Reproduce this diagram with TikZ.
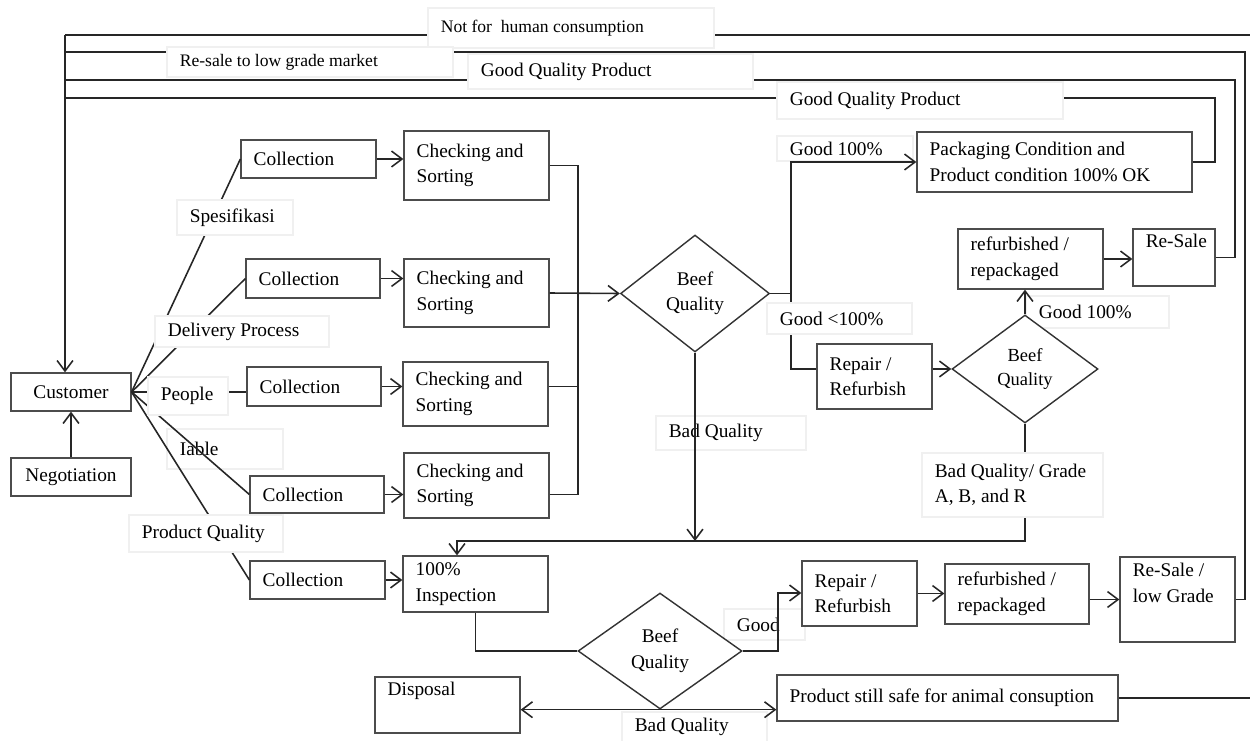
\documentclass[tikz,border=0pt]{standalone}
\usepackage{fontspec}
\setmainfont{Liberation Serif}
\usetikzlibrary{shapes.geometric,arrows.meta}
\newcommand\fs{\fontsize{11}{14.5}\selectfont}
\newcommand\fss{\fontsize{10}{13}\selectfont}
\newcommand\fsm{\fontsize{10.5}{13.5}\selectfont}
\tikzset{
 ln/.style={draw=black!85,line width=0.9pt},
 arr/.style={-{Straight Barb[length=6pt,width=9pt]}},
 boxst/.style={draw=black!70,line width=0.7pt,fill=white,inner sep=0pt},
 lblst/.style={draw=black!6,line width=0.6pt,fill=white,inner sep=0pt},
 txt/.style={inner sep=0pt,align=left,font=\fs},
 dia/.style={diamond,draw=black!80,line width=0.8pt,fill=white,inner sep=0pt,align=center,font=\fs},
}
\newcommand\myrect[7]{%
 \pgfmathsetmacro\rw{(#5-#3)*0.02}%
 \pgfmathsetmacro\rh{(#6-#4)*0.02}%
 \node[#1,minimum width=\rw cm,minimum height=\rh cm] (#2) at ({(#3+#5)/2},{(#4+#6)/2}) {};
 \node[txt,anchor=west] (#2t) at ([xshift=0.26cm]#2.west) {#7};}
\newcommand\mycrect[7]{%
 \pgfmathsetmacro\rw{(#5-#3)*0.02}%
 \pgfmathsetmacro\rh{(#6-#4)*0.02}%
 \node[#1,minimum width=\rw cm,minimum height=\rh cm,font=\fs,align=center] (#2) at ({(#3+#5)/2},{(#4+#6)/2}) {#7};}
\begin{document}
\begin{tikzpicture}[x=0.02cm,y=-0.02cm]
\useasboundingbox (0,0) rectangle (1250,740);
% labels lying under lines / shapes
\myrect{lblst}{lgoodA}{777}{136}{913}{161}{Good 100\%}
\myrect{lblst}{lgoodB}{1026}{296}{1169}{328}{Good 100\%}
\myrect{lblst}{lbadB}{622}{712}{767}{742}{Bad Quality}
\myrect{lblst}{liab}{167}{429}{283}{469}{Iable}
\myrect{lblst}{lbadA}{656}{416}{806}{450}{Bad Quality}
\myrect{lblst}{lgood}{724}{609}{805}{640}{Good}
% boxes
\mycrect{boxst}{customer}{11}{373}{131}{411}{Customer}
\mycrect{boxst}{neg}{11}{458}{131}{496}{Negotiation}
\myrect{boxst}{c1}{241}{140}{376}{178}{Collection}
\myrect{boxst}{c2}{246}{259}{380}{298}{Collection}
\myrect{boxst}{c3}{247}{367}{381}{406}{Collection}
\myrect{boxst}{c4}{250}{476}{384}{513}{Collection}
\myrect{boxst}{c5}{250}{561}{385}{599}{Collection}
\myrect{boxst}{cs1}{404}{131}{549}{200}{Checking and\\Sorting}
\myrect{boxst}{cs2}{404}{259}{549}{327}{Checking and\\Sorting}
\myrect{boxst}{cs3}{403}{362}{548}{426}{Checking and\\Sorting}
\myrect{boxst}{cs4}{404}{453}{549}{518}{Checking and\\Sorting}
\myrect{boxst}{insp}{403}{556}{548}{612}{100\%\\Inspection}
\myrect{boxst}{pack}{917}{132}{1192}{192}{Packaging Condition and\\Product condition 100\% OK}
\myrect{boxst}{rep1}{817}{344}{932}{409}{Repair /\\Refurbish}
\myrect{boxst}{ref1}{958}{229}{1103}{289}{refurbished /\\repackaged}
\myrect{boxst}{resale1}{1133}{229}{1215}{286}{Re-Sale\\\strut}
\myrect{boxst}{rep2}{802}{561}{917}{626}{Repair /\\Refurbish}
\myrect{boxst}{ref2}{945}{564}{1089}{624}{refurbished /\\repackaged}
\myrect{boxst}{resale2}{1120}{557}{1235}{642}{Re-Sale /\\low Grade\\\strut}
\myrect{boxst}{disp}{375}{677}{520}{733}{Disposal\\\strut}
\myrect{boxst}{prod}{777}{675}{1118}{721}{Product still safe for animal consuption}
% diamonds
\node[dia,minimum width=2.98cm,minimum height=2.34cm] (d1) at (695,293.5) {Beef\\Quality};
\node[dia,minimum width=2.92cm,minimum height=2.16cm,font=\fsm] (d2) at (1025,369) {Beef\\Quality};
\node[dia,minimum width=3.28cm,minimum height=2.32cm] (d3) at (660,651) {Beef\\Quality};
% coordinates
\coordinate (tl) at (65,35);
\coordinate (nfR) at (1250,35);
\coordinate (c52r) at (1245,52);
\coordinate (c52l) at (65,52);
\coordinate (c80r) at (1235,80);
\coordinate (c80l) at (65,80);
\coordinate (c98r) at (1215,98);
\coordinate (c98l) at (65,98);
\coordinate (mx) at (578,293);
\coordinate (jr) at (791,293);
\coordinate (jb) at (457,541);
\coordinate (jg) at (778,593);
% top feedback lines
\draw[ln] (nfR) -- (tl);
\draw[ln,arr] (tl) -- (tl |- customer.north);
\draw[ln] (resale2.east) -| (c52r) -- (c52l);
\draw[ln] (resale1.east) -| (c80r) -- (c80l);
\draw[ln] (pack.east) -| (c98r) -- (c98l);
\draw[ln] (prod.east) -- (prod.east -| nfR);
\draw[ln,arr] (neg.north) -- (customer.south);
% fan
\draw[ln] (customer.east) -- (c1.west);
\draw[ln] (customer.east) -- (c2.west);
\draw[ln] (customer.east) -- (customer.east -| c3.west);
\draw[ln] (customer.east) -- (c4.west);
\draw[ln] (customer.east) -- (c5.west);
% collection -> checking
\draw[ln,arr] (c1.east) -- (c1.east -| cs1.west);
\draw[ln,arr] (c2.east) -- (c2.east -| cs2.west);
\draw[ln,arr] (c3.east) -- (c3.east -| cs3.west);
\draw[ln,arr] (c4.east) -- (c4.east -| cs4.west);
\draw[ln,arr] (c5.east) -- (c5.east -| insp.west);
% merge
\draw[ln] (cs1.east) -| (mx);
\draw[ln] (c4.east -| cs4.east) -| (mx);
\draw[ln] (c3.east -| cs3.east) -- (c3.east -| mx);
\draw[ln,arr] (cs2.east) -- (d1.west);
% main decision
\draw[ln,arr] (d1.east) -- (d1.east -| jr) |- (pack.west);
\draw[ln] (d1.east -| jr) |- (d2.west -| rep1.west);
\draw[ln,arr] (d2.west -| rep1.east) -- (d2.west);
\draw[ln,arr] (d2.north) -- (d2.north |- ref1.south);
\draw[ln,arr] (ref1.east) -- (ref1.east -| resale1.west);
\draw[ln,arr] (d2.south) |- (jb) -- (jb |- insp.north);
\draw[ln,arr] (d1.south) -- (d1.south |- jb);
% inspection
\draw[ln] (insp.south) |- (d3.west);
\draw[ln,arr] (d3.east) -| (jg) -- (jg -| rep2.west);
\draw[ln,arr] (rep2.east) -- (rep2.east -| ref2.west);
\draw[ln,arr] (ref2.east |- resale2.west) -- (resale2.west);
\draw[ln,arr] (d3.south) -- (d3.south -| disp.east);
\draw[ln,arr] (d3.south) -- (d3.south -| prod.west);
% labels lying over lines
\myrect{lblst}{lnf}{428}{8}{714}{48}{\fss Not for\ \ human consumption}
\myrect{lblst}{lrs}{167}{47}{453}{77}{\fss Re-sale to low grade market}
\myrect{lblst}{lgq1}{468}{54}{753}{89}{Good Quality Product}
\myrect{lblst}{lgq2}{777}{82}{1063}{119}{Good Quality Product}
\myrect{lblst}{lspe}{177}{200}{293}{235}{Spesifikasi}
\myrect{lblst}{ldel}{155}{316}{329}{347}{Delivery Process}
\myrect{lblst}{lpeo}{148}{377}{228}{415}{People}
\myrect{lblst}{lpq}{129}{515}{283}{552}{Product Quality}
\myrect{lblst}{lgl}{767}{303}{912}{334}{Good <100\%}
\myrect{lblst}{lbg}{922}{453}{1103}{517}{Bad Quality/ Grade\\A, B, and R}
\end{tikzpicture}
\end{document}
